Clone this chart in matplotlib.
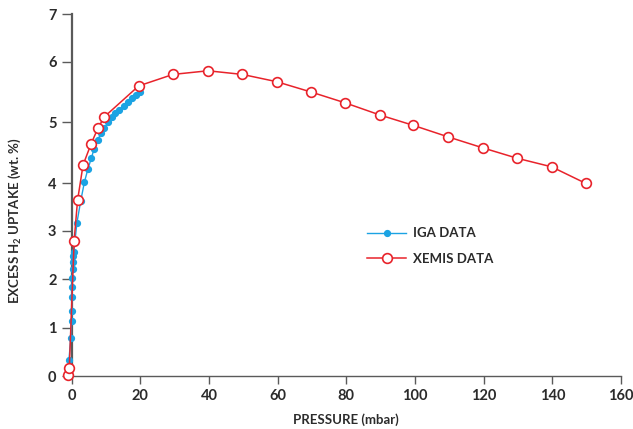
import numpy as np
import matplotlib
matplotlib.use("Agg")
import matplotlib.pyplot as plt
from matplotlib.scale import FuncScale

plt.rcParams['font.family'] = ['Lato', 'DejaVu Sans']
plt.rcParams['mathtext.fontset'] = 'custom'
plt.rcParams['mathtext.rm'] = 'Lato'
plt.rcParams['mathtext.bf'] = 'Lato:bold'

# IGA data (pressure mbar, uptake wt.%)
iga_p = [-0.8, -0.3, 0.0, 0.0, 0.0, 0.1, 0.1, 0.3, 0.4, 0.5, 0.6, 1.5, 2.6,
         3.7, 4.7, 5.7, 6.5, 7.6, 8.5, 9.5, 10.7, 11.7, 12.7, 13.9, 15.1, 16.4,
         17.5, 18.8, 19.9]
iga_u = [0.33, 0.78, 1.14, 1.35, 1.63, 1.84, 2.03, 2.21, 2.36, 2.47, 2.56, 3.16, 3.62,
         4.02, 4.23, 4.41, 4.56, 4.71, 4.82, 4.91, 5.00, 5.08, 5.15, 5.21, 5.27, 5.34,
         5.40, 5.45, 5.50]

# XEMIS data
xem_p = [-1.0, -0.7, 0.7, 1.7, 3.3, 5.6, 7.6, 9.5, 19.5, 29.5, 39.7, 49.7, 59.7,
         69.7, 79.7, 89.8, 99.5, 109.7, 119.8, 129.8, 139.8, 149.7]
xem_u = [0.02, 0.17, 2.79, 3.64, 4.30, 4.64, 4.90, 5.09, 5.60, 5.79, 5.85, 5.79, 5.67,
         5.50, 5.32, 5.12, 4.95, 4.76, 4.58, 4.41, 4.27, 4.00]

x_ticks = [0, 20, 40, 60, 80, 100, 120, 140, 160]
y_ticks = [0, 1, 2, 3, 4, 5, 6, 7]
# non-uniform y axis spacing as in the reference (relative tick positions)
y_tick_pos = [0, 48.3, 96.7, 145.3, 192.7, 253.7, 314.3, 361.7]

def fwd(v):
    return np.interp(v, y_ticks, y_tick_pos, left=-1e3, right=1e3)

def inv(p):
    return np.interp(p, y_tick_pos, y_ticks)

BLUE = '#1ba3e3'
RED = '#e8232b'
GRAY = '#5a5a5a'
TXT = '#2b2b2b'

fig = plt.figure(figsize=(6.33, 4.29), dpi=100)
ax = fig.add_axes([0.1133, 0.1235, 0.8677, 0.8432])
ax.set_yscale(FuncScale(ax, (fwd, inv)))

ax.plot(iga_p, iga_u, '-o', color=BLUE, lw=1.0, ms=4.2, mec=BLUE, mfc=BLUE,
        label='IGA DATA', clip_on=False, zorder=3)
ax.plot(xem_p, xem_u, '-o', color=RED, lw=1.1, ms=7.0, mec=RED, mfc='white',
        mew=1.2, label='XEMIS DATA', clip_on=False, zorder=4)

ax.set_xlim(0, 160)
ax.set_ylim(0, 7)
ax.set_xticks(x_ticks)
ax.set_yticks(y_ticks)
ax.set_xticklabels([str(t) for t in x_ticks])
ax.set_yticklabels([str(t) for t in y_ticks])

for s in ['top', 'right']:
    ax.spines[s].set_visible(False)
ax.spines['left'].set_color(GRAY)
ax.spines['left'].set_linewidth(1.6)
ax.spines['bottom'].set_color(GRAY)
ax.spines['bottom'].set_linewidth(1.0)
ax.tick_params(axis='both', colors=GRAY, labelcolor=TXT, direction='out',
               labelsize=10.5, width=1.0)
ax.tick_params(axis='y', length=7, pad=4)
ax.tick_params(axis='x', length=6, pad=3.5)
for lab in ax.get_xticklabels() + ax.get_yticklabels():
    lab.set_fontweight('bold')

ax.set_xlabel('PRESSURE (mbar)', fontsize=9.5, fontweight='bold', color=TXT)
ax.xaxis.set_label_coords(0.5, -0.103)
ax.set_ylabel(r'EXCESS H$_\mathbf{2}$ UPTAKE (wt. %)', fontsize=9.5, fontweight='bold',
              color=TXT)
ax.yaxis.set_label_coords(-0.088, 0.43)

leg = ax.legend(loc='center left', bbox_to_anchor=(0.538, 0.359), frameon=False,
                prop={'weight': 'bold', 'size': 9.5}, handlelength=2.95,
                labelspacing=1.05, handletextpad=0.55, borderpad=0,
                borderaxespad=0)
for t in leg.get_texts():
    t.set_color(TXT)

fig.savefig('out.png', dpi=100)
